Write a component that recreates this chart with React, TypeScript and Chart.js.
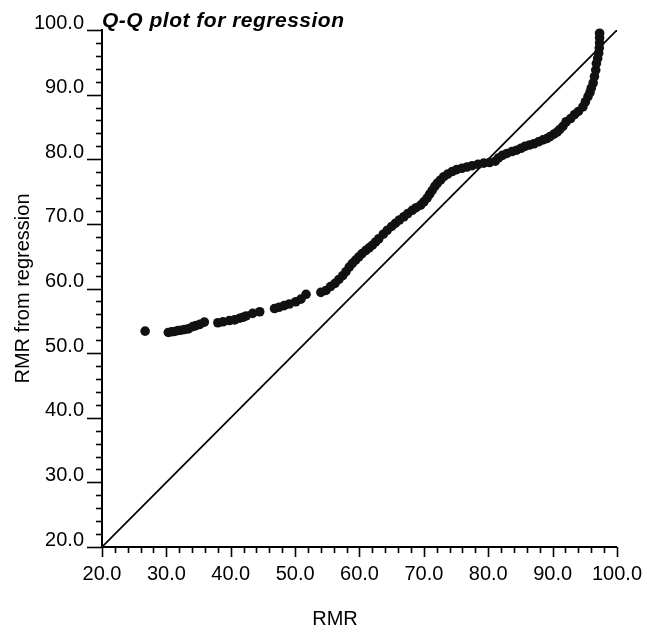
import React, { useEffect, useRef } from "react";
import { Chart, registerables } from "chart.js";

Chart.register(...registerables);

// ---- data ----
const RMR: number[] = [
  26.7, 30.3, 30.8, 31.3, 31.8, 32.3, 32.8, 33.4, 34.1, 34.6,
  35.2, 35.9, 38.0, 38.8, 39.8, 40.6, 41.4, 41.9, 42.4, 43.4,
  44.5, 46.8, 47.5, 48.3, 49.1, 50.1, 50.9, 51.7, 54.0, 54.8,
  55.5, 56.2, 56.8, 57.4, 57.9, 58.4, 58.9, 59.4, 59.9, 60.4,
  61.0, 61.5, 62.0, 62.5, 63.0, 63.7, 64.3, 65.0, 65.6, 66.2,
  66.9, 67.5, 68.2, 68.8, 69.5, 70.0, 70.5, 70.9, 71.3, 71.7,
  72.1, 72.6, 73.1, 73.7, 74.4, 75.1, 75.9, 76.7, 77.5, 78.4,
  79.3, 80.2, 81.1, 81.6, 82.2, 82.9, 83.7, 84.4, 85.1, 85.7,
  86.4, 87.1, 87.8, 88.5, 89.1, 89.6, 90.2, 90.7, 91.1, 91.6,
  92.1, 92.8, 93.4, 94.0, 94.7, 95.1, 95.5, 95.8, 96.0, 96.3,
  96.5, 96.7, 96.8, 97.0, 97.15, 97.25, 97.3, 97.3, 97.3,
];
const RMR_FROM_REGRESSION: number[] = [
  53.4, 53.2, 53.3, 53.35, 53.5, 53.55, 53.65, 53.75, 54.1, 54.25,
  54.45, 54.8, 54.7, 54.85, 55.05, 55.15, 55.4, 55.55, 55.75, 56.15,
  56.4, 56.9, 57.1, 57.35, 57.6, 57.95, 58.35, 59.1, 59.4, 59.7,
  60.3, 60.8, 61.4, 62.0, 62.6, 63.3, 63.9, 64.4, 64.9, 65.4,
  65.9, 66.3, 66.7, 67.2, 67.7, 68.4, 69.0, 69.6, 70.1, 70.6,
  71.1, 71.6, 72.1, 72.5, 72.9, 73.4, 74.0, 74.6, 75.2, 75.8,
  76.3, 76.8, 77.3, 77.7, 78.1, 78.4, 78.6, 78.8, 79.0, 79.2,
  79.4, 79.5, 79.7, 80.2, 80.6, 80.9, 81.2, 81.4, 81.7, 82.0,
  82.2, 82.4, 82.7, 83.0, 83.2, 83.5, 83.9, 84.2, 84.6, 85.1,
  85.8, 86.3, 86.9, 87.4, 88.1, 88.9, 89.7, 90.3, 91.0, 91.8,
  92.8, 93.8, 94.8, 95.6, 96.4, 97.2, 98.0, 98.8, 99.5,
];
const REF_LINE_X: number[] = [20, 100];
const REF_LINE_Y: number[] = [20, 100];

const AXIS_MIN = 20;
const AXIS_MAX = 100;
const MAJOR_STEP = 10;
const MINOR_STEP = 2;

const TITLE = "Q-Q plot for regression";
const X_TITLE = "RMR";
const Y_TITLE = "RMR from regression";

const FONT = "'Liberation Sans', Arial, Helvetica, sans-serif";

export default function App() {
  const ref = useRef<HTMLCanvasElement>(null);

  useEffect(() => {
    document.body.style.margin = "0";
    const canvas = ref.current;
    if (!canvas) return;

    const decor = {
      id: "qqDecor",
      afterDraw(chart: any) {
        const ctx = chart.ctx as CanvasRenderingContext2D;
        const { left, top, bottom } = chart.chartArea;
        const xs = chart.scales.x;
        const ys = chart.scales.y;
        ctx.save();
        ctx.strokeStyle = "#000";
        ctx.lineWidth = 1.6;
        for (let v = AXIS_MIN; v <= AXIS_MAX + 1e-9; v += MINOR_STEP) {
          const major = Math.abs(v % MAJOR_STEP) < 1e-9;
          const px = Math.round(xs.getPixelForValue(v)) + 0.5;
          ctx.beginPath();
          ctx.moveTo(px, bottom);
          ctx.lineTo(px, bottom + (major ? 10 : 6));
          ctx.stroke();
          const py = Math.round(ys.getPixelForValue(v)) + 0.5;
          ctx.beginPath();
          ctx.moveTo(left, py);
          ctx.lineTo(left - (major ? 15 : 6), py);
          ctx.stroke();
        }
        ctx.fillStyle = "#000";
        ctx.textBaseline = "alphabetic";
        ctx.font = `italic bold 21px ${FONT}`;
        ctx.textAlign = "left";
        try {
          (ctx as any).letterSpacing = "0.5px";
        } catch (e) {}
        ctx.fillText(TITLE, left, 27);
        try {
          (ctx as any).letterSpacing = "0px";
        } catch (e) {}
        ctx.font = `20px ${FONT}`;
        ctx.textAlign = "center";
        ctx.fillText(X_TITLE, 335, 625);
        ctx.save();
        ctx.translate(29, (top + bottom) / 2);
        ctx.rotate(-Math.PI / 2);
        ctx.fillText(Y_TITLE, 0, 0);
        ctx.restore();
        ctx.restore();
      },
    };

    const tickFmt = (v: any) => Number(v).toFixed(1);

    const chart = new Chart(canvas, {
      type: "scatter",
      data: {
        datasets: [
          {
            type: "line",
            label: "reference",
            data: REF_LINE_X.map((x, i) => ({ x, y: REF_LINE_Y[i] })),
            borderColor: "#000",
            borderWidth: 1.7,
            pointRadius: 0,
            fill: false,
            showLine: true,
            tension: 0,
            order: 2,
          } as any,
          {
            type: "scatter",
            label: "Q-Q",
            data: RMR.map((x, i) => ({ x, y: RMR_FROM_REGRESSION[i] })),
            backgroundColor: "#111",
            borderColor: "#111",
            borderWidth: 0,
            pointRadius: 4.8,
            pointHoverRadius: 4.8,
            clip: false,
            order: 1,
          } as any,
        ],
      },
      options: {
        responsive: false,
        animation: false,
        events: [],
        layout: { padding: { top: 30, right: 28, left: 0, bottom: 0 } },
        plugins: {
          legend: { display: false },
          tooltip: { enabled: false },
          title: { display: false },
        },
        scales: {
          x: {
            type: "linear",
            min: AXIS_MIN,
            max: AXIS_MAX,
            afterFit: (s: any) => {
              s.height = 85;
            },
            ticks: {
              stepSize: MAJOR_STEP,
              callback: tickFmt,
              color: "#000",
              font: { size: 20, family: FONT },
              padding: 5,
              maxRotation: 0,
              autoSkip: false,
            },
            grid: {
              display: true,
              drawOnChartArea: false,
              drawTicks: true,
              tickLength: 10,
              color: "rgba(0,0,0,0)",
            },
            border: { display: true, color: "#000", width: 2 },
          },
          y: {
            type: "linear",
            min: AXIS_MIN,
            max: AXIS_MAX,
            afterFit: (s: any) => {
              s.width = 102;
            },
            ticks: {
              stepSize: MAJOR_STEP,
              callback: tickFmt,
              color: "#000",
              font: { size: 20, family: FONT },
              padding: 3,
              labelOffset: -7,
              autoSkip: false,
            },
            grid: {
              display: true,
              drawOnChartArea: false,
              drawTicks: true,
              tickLength: 15,
              color: "rgba(0,0,0,0)",
            },
            border: { display: true, color: "#000", width: 2 },
          },
        },
      } as any,
      plugins: [decor],
    });

    return () => {
      chart.destroy();
    };
  }, []);

  return (
    <div style={{ position: "absolute", left: 0, top: 0, width: 647, height: 632, background: "#fff" }}>
      <canvas ref={ref} width={647} height={632} style={{ display: "block" }} />
    </div>
  );
}
